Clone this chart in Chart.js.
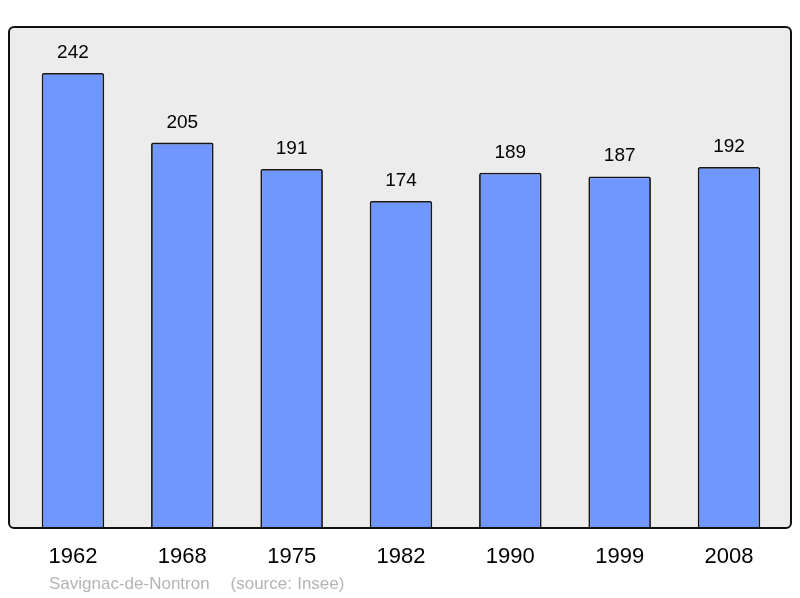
<!DOCTYPE html>
<html>
<head>
<meta charset="utf-8">
<script src="https://cdn.jsdelivr.net/npm/chart.js@4"></script>
<style>
  body { margin: 0; background: #fff; }
  #wrap { position: relative; width: 800px; height: 598px; }
  #note {
    position: absolute; left: 49px; top: 574px;
    font: 17px "Liberation Sans", Arial, sans-serif; line-height: 20px;
    color: #b4b4b4; white-space: pre; word-spacing: 0.5px;
  }
</style>
</head>
<body>
<div id="wrap">
  <canvas id="pop" width="800" height="598"></canvas>
  <div id="note">Savignac-de-Nontron    (source: Insee)</div>
</div>
<script>
// Datos de población por año
var annees = ['1962', '1968', '1975', '1982', '1990', '1999', '2008'];
var population = [242, 205, 191, 174, 189, 187, 192];

// fondo gris y borde redondeado del área del gráfico
var fondo = {
    id: 'fondo',
    beforeDraw: function(chart) {
        var a = chart.chartArea, ctx = chart.ctx;
        ctx.save();
        ctx.beginPath();
        ctx.roundRect(a.left, a.top, a.right - a.left, a.bottom - a.top, 5);
        ctx.fillStyle = '#ececec';
        ctx.fill();
        ctx.restore();
    },
    afterDatasetsDraw: function(chart) {
        var a = chart.chartArea, ctx = chart.ctx;
        ctx.save();
        // valores encima de cada barra
        ctx.font = '19px "Liberation Sans", Arial, sans-serif';
        ctx.fillStyle = '#000';
        ctx.textAlign = 'center';
        ctx.textBaseline = 'alphabetic';
        chart.getDatasetMeta(0).data.forEach(function(bar, i) {
            ctx.fillText(population[i], bar.x, bar.y - 15);
        });
        ctx.beginPath();
        ctx.roundRect(a.left, a.top, a.right - a.left, a.bottom - a.top, 5);
        ctx.lineWidth = 2;
        ctx.strokeStyle = '#111';
        ctx.stroke();
        ctx.restore();
    }
};

var ctx = document.getElementById('pop').getContext('2d');
var myChart = new Chart(ctx, {
    type: 'bar',
    data: {
        datasets: [{
            data: population.map(function(v, i) { return { x: i, y: v }; }),
            backgroundColor: '#7096ff',
            borderColor: '#161616',
            borderWidth: 1.8,
            borderRadius: 2,
            categoryPercentage: 1,
            barPercentage: 0.572
        }]
    },
    options: {
        responsive: false,
        animation: false,
        layout: { padding: { left: 9, right: 9, top: 27, bottom: 0 } },
        plugins: { legend: { display: false }, tooltip: { enabled: false } },
        scales: {
            x: {
                type: 'linear',
                offset: false,
                min: -0.585,
                max: 6.567,
                grid: { display: false, drawTicks: false },
                border: { display: false },
                afterBuildTicks: function(scale) {
                    scale.ticks = annees.map(function(a, i) { return { value: i }; });
                },
                afterFit: function(scale) { scale.height = 70; },
                ticks: {
                    autoSkip: false,
                    maxRotation: 0,
                    padding: 16,
                    color: '#000',
                    font: { family: '"Liberation Sans", Arial, sans-serif', size: 22 },
                    callback: function(v) { return annees[v]; }
                }
            },
            y: {
                display: false,
                min: 0,
                max: 266.5
            }
        }
    },
    plugins: [fondo]
});
</script>
</body>
</html>
